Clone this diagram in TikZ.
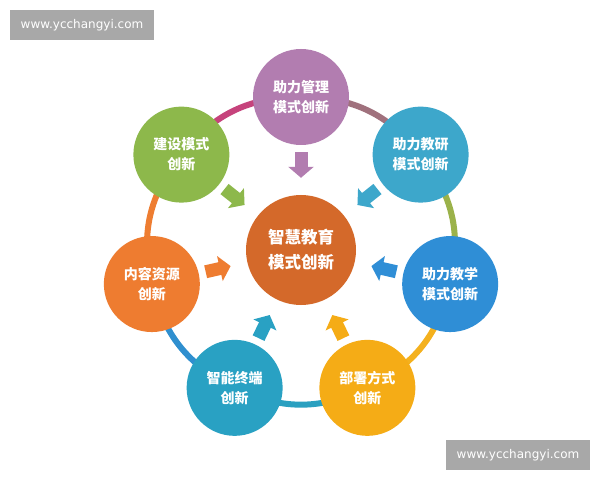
\documentclass[tikz,border=0pt]{standalone}
\usepackage{fontspec}
\newfontfamily\cjk{Noto Sans CJK SC}
\newfontfamily\wmfont{DejaVu Sans}
\usetikzlibrary{arrows.meta,backgrounds}

\definecolor{c0}{HTML}{D4692A}
\definecolor{c1}{HTML}{B27DB0}
\definecolor{c2}{HTML}{3DA7CB}
\definecolor{c3}{HTML}{2F8ED6}
\definecolor{c4}{HTML}{F5AC16}
\definecolor{c5}{HTML}{29A1C3}
\definecolor{c6}{HTML}{EE7C30}
\definecolor{c7}{HTML}{8DB84B}
\definecolor{r12}{HTML}{A0717D}
\definecolor{r23}{HTML}{9BB24A}
\definecolor{r34}{HTML}{F4B11E}
\definecolor{r45}{HTML}{2AA0C0}
\definecolor{r56}{HTML}{2F8FCF}
\definecolor{r67}{HTML}{EE7D31}
\definecolor{r71}{HTML}{C6437C}
\definecolor{stampgray}{HTML}{A8A8A8}

\begin{document}
\begin{tikzpicture}[x=1pt,y=1pt,
    main node/.style={circle,inner sep=0pt,minimum size=96pt,align=center,text=white,
                      font={\cjk\bfseries\fontsize{14}{20}\selectfont}},
    hub node/.style={main node,minimum size=110pt,font={\cjk\bfseries\fontsize{16.5}{25}\selectfont}},
    ring/.style={line width=6pt},
    push/.style={line width=13pt,-{Triangle[length=11pt,width=25pt]},shorten <=7pt,shorten >=17pt},
    stamp/.style={fill=stampgray,text=white,minimum width=144pt,minimum height=30pt,inner sep=0pt,
                  font={\wmfont\fontsize{12}{14}\selectfont}}]
  \useasboundingbox (0,0) rectangle (600,480);
  \begin{scope}[shift={(301,230)}]
    \node[hub node,fill=c0] (0) at (0,0) {智慧教育\\模式创新};
    \node[main node,fill=c1] (1) at (90:153) {助力管理\\模式创新};
    \node[main node,fill=c2] (2) at (38.57:153) {助力教研\\模式创新};
    \node[main node,fill=c3] (3) at (-12.86:153) {助力教学\\模式创新};
    \node[main node,fill=c4] (4) at (-64.29:153) {部署方式\\创新};
    \node[main node,fill=c5] (5) at (-115.71:153) {智能终端\\创新};
    \node[main node,fill=c6] (6) at (-167.14:153) {内容资源\\创新};
    \node[main node,fill=c7] (7) at (141.43:153) {建设模式\\创新};
  \end{scope}
  \begin{scope}[on background layer]
    \fill[white] (0,0) rectangle (600,480);
    \path[ring]
      (1.center) edge [draw=r12,bend left=25.7] (2.center)
      (2.center) edge [draw=r23,bend left=25.7] (3.center)
      (3.center) edge [draw=r34,bend left=25.7] (4.center)
      (4.center) edge [draw=r45,bend left=25.7] (5.center)
      (5.center) edge [draw=r56,bend left=25.7] (6.center)
      (6.center) edge [draw=r67,bend left=25.7] (7.center)
      (7.center) edge [draw=r71,bend left=25.7] (1.center);
  \end{scope}
  \path[push]
    (1) edge [draw=c1] (0)
    (2) edge [draw=c2] (0)
    (3) edge [draw=c3] (0)
    (4) edge [draw=c4] (0)
    (5) edge [draw=c5] (0)
    (6) edge [draw=c6] (0)
    (7) edge [draw=c7] (0);
  % watermarks
  \node[stamp] (top mark) at (82,455) {www.ycchangyi.com};
  \node[stamp] (bottom mark) at (518,25) {www.ycchangyi.com};
\end{tikzpicture}
\end{document}
